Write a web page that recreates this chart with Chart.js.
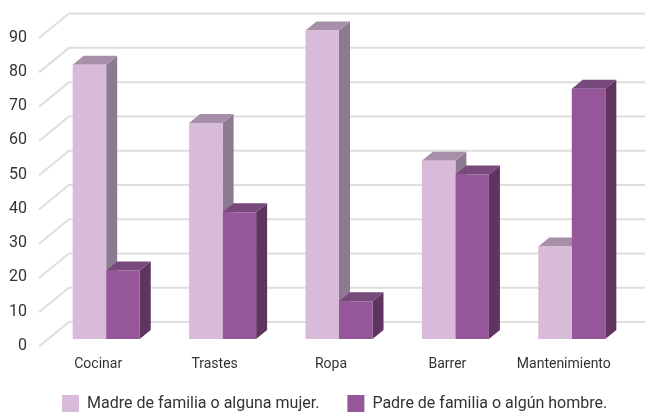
<!DOCTYPE html>
<html>
<head>
<meta charset="utf-8">
<style>
  html, body { margin: 0; padding: 0; background: #fff; }
  #wrap { width: 645px; height: 413px; }
</style>
<script src="https://cdn.jsdelivr.net/npm/chart.js@4"></script>
</head>
<body>
<div id="wrap"><canvas id="chart" width="645" height="413"></canvas></div>
<script>
const categorias = ['Cocinar', 'Trastes', 'Ropa', 'Barrer', 'Mantenimiento'];
const madre = [80, 63, 90, 52, 27];
const padre = [20, 37, 11, 48, 73];
const nombreMadre = 'Madre de familia o alguna mujer.';
const nombrePadre = 'Padre de familia o algún hombre.';

// Chart.js has no 3D bars: side and top faces and the floor/wall grid are added here
const depth = { x: 11, y: 9 };
const caras = [
    { side: '#8d7a90', top: '#a88fa9' },
    { side: '#5f3560', top: '#774a7b' }
];

const falso3d = {
    id: 'falso3d',
    beforeInit(chart) {
        // keep the wide gap between legend items without a tall legend box
        const fit = chart.legend.fit;
        chart.legend.fit = function () {
            fit.call(this);
            this.height = 47;
        };
    },
    afterLayout(chart) {
        // x labels get clipped at the scale bottom, and the legend sits right of centre
        chart.scales.x.bottom = chart.height;
        chart.legend.left = 34;
        chart.legend.right = chart.width + 34;
        chart.legend.top += 1;
    },
    beforeDatasetsDraw(chart) {
        const { ctx } = chart;
        const y = chart.scales.y;
        const x0 = 39, x1 = 69;

        ctx.save();
        ctx.strokeStyle = '#dedede';
        ctx.lineWidth = 2;
        y.ticks.forEach((t) => {
            const py = y.getPixelForValue(t.value);
            ctx.beginPath();
            ctx.moveTo(x0, py + 7.5);
            ctx.lineTo(x1, py - 17);
            ctx.lineTo(chart.width, py - 17);
            ctx.stroke();
        });

        chart.data.datasets.forEach((ds, i) => {
            chart.getDatasetMeta(i).data.forEach((bar) => {
                const left = bar.x - bar.width / 2;
                const right = bar.x + bar.width / 2;
                ctx.fillStyle = caras[i].side;
                ctx.beginPath();
                ctx.moveTo(right, bar.y);
                ctx.lineTo(right + depth.x, bar.y - depth.y);
                ctx.lineTo(right + depth.x, bar.base - depth.y);
                ctx.lineTo(right, bar.base);
                ctx.closePath();
                ctx.fill();

                ctx.fillStyle = caras[i].top;
                ctx.beginPath();
                ctx.moveTo(left, bar.y);
                ctx.lineTo(left + depth.x, bar.y - depth.y);
                ctx.lineTo(right + depth.x, bar.y - depth.y);
                ctx.lineTo(right, bar.y);
                ctx.closePath();
                ctx.fill();
            });
        });
        ctx.restore();
    }
};

new Chart(document.getElementById('chart'), {
    type: 'bar',
    data: {
        labels: categorias,
        datasets: [
            { label: nombreMadre, data: madre, backgroundColor: '#d7bbd9' },
            { label: nombrePadre, data: padre, backgroundColor: '#96579a' }
        ]
    },
    options: {
        responsive: false,
        animation: false,
        barPercentage: 1,
        categoryPercentage: 0.576,
        layout: { padding: { top: 30, right: 15, bottom: 0 } },
        plugins: {
            tooltip: { enabled: false },
            legend: {
                position: 'bottom',
                align: 'start',
                labels: {
                    boxWidth: 17,
                    boxHeight: 17,
                    padding: 28,
                    color: '#333',
                    font: { family: 'Roboto', size: 16 }
                }
            }
        },
        scales: {
            x: {
                afterFit(scale) { scale.height = 27; },
                grid: { display: false },
                border: { display: false },
                ticks: { color: '#333', font: { family: 'Roboto', size: 14 }, padding: 9, labelOffset: -8, maxRotation: 0 }
            },
            y: {
                min: 0,
                max: 90,
                afterFit(scale) { scale.width = 48; },
                grid: { display: false, drawTicks: false },
                border: { display: false },
                ticks: { stepSize: 10, color: '#333', padding: 21, labelOffset: 7, font: { family: 'Roboto', size: 16 } }
            }
        }
    },
    plugins: [falso3d]
});
</script>
</body>
</html>
